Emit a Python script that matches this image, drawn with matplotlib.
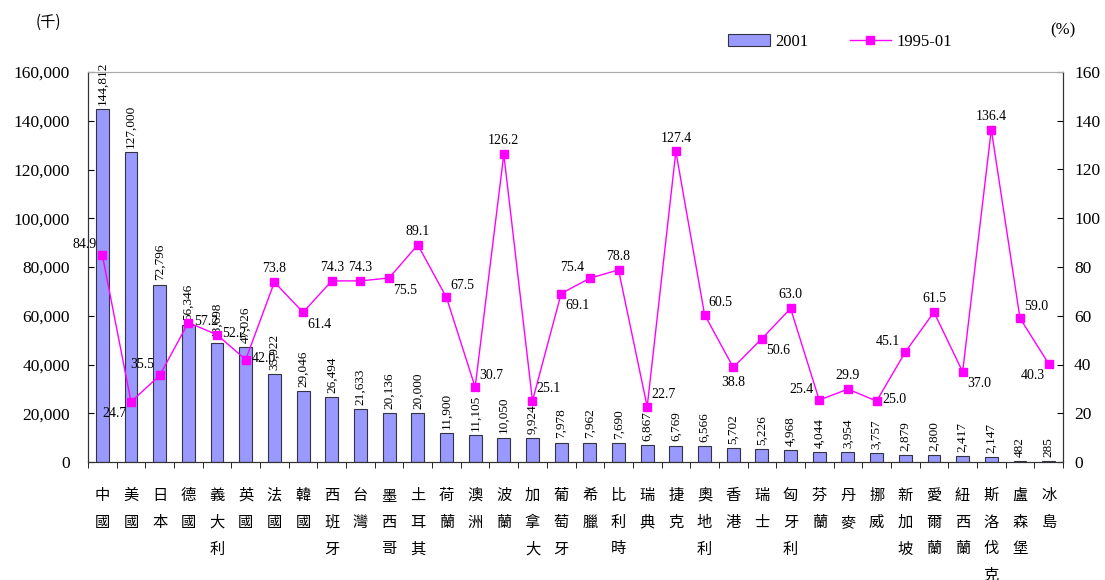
import matplotlib.pyplot as plt
import numpy as np
from matplotlib.lines import Line2D
from matplotlib.patches import Patch

countries = ["中國", "美國", "日本", "德國", "義大利", "英國", "法國", "韓國", "西班牙",
             "台灣", "墨西哥", "土耳其", "荷蘭", "澳洲", "波蘭", "加拿大", "葡萄牙", "希臘",
             "比利時", "瑞典", "捷克", "奧地利", "香港", "瑞士", "匈牙利", "芬蘭", "丹麥",
             "挪威", "新加坡", "愛爾蘭", "紐西蘭", "斯洛伐克", "盧森堡", "冰島"]

subs_2001 = [144812, 127000, 72796, 56346, 48698, 47026, 35922, 29046, 26494,
             21633, 20136, 20000, 11900, 11105, 10050, 9924, 7978, 7962,
             7690, 6867, 6769, 6566, 5702, 5226, 4968, 4044, 3954,
             3757, 2879, 2800, 2417, 2147, 482, 285]

growth_95_01 = [84.9, 24.7, 35.5, 57.2, 52.2, 42.0, 73.8, 61.4, 74.3,
                74.3, 75.5, 89.1, 67.5, 30.7, 126.2, 25.1, 69.1, 75.4,
                78.8, 22.7, 127.4, 60.5, 38.8, 50.6, 63.0, 25.4, 29.9,
                25.0, 45.1, 61.5, 37.0, 136.4, 59.0, 40.3]

# where each growth label sits relative to its marker
label_pos = ["al", "bl", "al", "r", "r", "r", "a", "br", "a",
             "a", "br", "a", "ar", "ar", "a", "ar", "br", "al",
             "a", "ar", "a", "ar", "b", "br", "a", "al", "a",
             "r", "al", "a", "br", "a", "ar", "bl"]

offsets = {
    "a": ((0, 5), "center", "bottom"),
    "b": ((0, -6), "center", "top"),
    "r": ((4, 1), "left", "center"),
    "ar": ((3, 4), "left", "bottom"),
    "br": ((3, -4), "left", "top"),
    "al": ((-4, 3), "right", "bottom"),
    "bl": ((-3, -4), "right", "top"),
}

serif = "Liberation Serif"
cjk = ["Noto Sans CJK TC", "DejaVu Sans"]

fig = plt.figure(figsize=(11.05, 5.8), dpi=100)
ax = fig.add_axes([88 / 1105, 1 - 462 / 580, 975 / 1105, 390 / 580])
ax2 = ax.twinx()

x = np.arange(len(countries))
ax.bar(x, subs_2001, width=0.45, color="#9999ff", edgecolor="#333344", linewidth=0.8, zorder=2)
for xi, v in zip(x, subs_2001):
    ax.annotate(f"{v:,}", (xi, v), xytext=(0, 3), textcoords="offset points",
                rotation=90, ha="center", va="bottom", fontsize=9.5,
                family=serif, annotation_clip=False)

ax.set_xlim(-0.5, len(countries) - 0.5)
ax.set_ylim(0, 160000)
ax.set_yticks(np.arange(0, 160001, 20000))
ax.set_yticklabels([f"{v:,}" for v in range(0, 160001, 20000)], family=serif, fontsize=12.5)
ax.set_xticks(x)
ax.set_xticklabels(["\n".join(c) for c in countries], family=cjk, fontsize=11,
                   linespacing=1.75, va="top")
ax.set_xticks(np.arange(-0.5, len(countries), 1), minor=True)
ax.tick_params(axis="x", which="major", length=0, pad=18)
ax.tick_params(axis="x", which="minor", length=4, direction="out")
ax.tick_params(axis="y", direction="in", length=4, pad=13)

ax2.plot(x, growth_95_01, color="#ff00ff", linewidth=1, marker="s", markersize=6,
         markerfacecolor="#ff00ff", markeredgecolor="#ff00ff", zorder=3)
for xi, v, p in zip(x, growth_95_01, label_pos):
    off, ha, va = offsets[p]
    ax2.annotate(f"{v:.1f}", (xi, v), xytext=off, textcoords="offset points",
                 ha=ha, va=va, fontsize=10, family=serif)
ax2.set_ylim(0, 160)
ax2.set_yticks(np.arange(0, 161, 20))
ax2.set_yticklabels([str(v) for v in range(0, 161, 20)], family=serif, fontsize=12.5)
ax2.tick_params(axis="y", direction="in", length=4, pad=8)

for a in (ax, ax2):
    a.spines["top"].set_color("#aaaaaa")
    a.spines["left"].set_color("#333333")
    a.spines["right"].set_color("#333333")
    a.spines["bottom"].set_color("#333333")

fig.text(48 / 1105, 1 - 22 / 580, "(千)", family=cjk, fontsize=11, ha="center", va="center")
fig.text(1063 / 1105, 1 - 30 / 580, "(%)", family=serif, fontsize=12, ha="center", va="center")

handles = [Patch(facecolor="#9999ff", edgecolor="#333344", linewidth=0.8),
           Line2D([], [], color="#ff00ff", linewidth=1, marker="s", markersize=6)]
fig.legend(handles, ["2001", "1995-01"], loc="center", bbox_to_anchor=(840 / 1105, 1 - 42 / 580),
           ncol=2, frameon=False, prop={"family": serif, "size": 12},
           handlelength=2.5, columnspacing=2.5, handletextpad=0.3)

fig.savefig("out.png", dpi=100)
